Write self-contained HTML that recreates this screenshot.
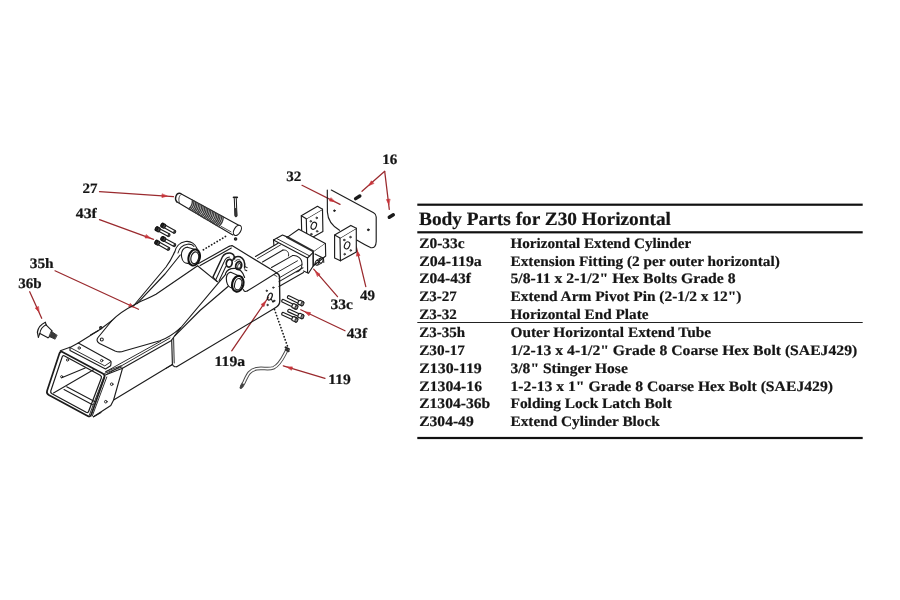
<!DOCTYPE html>
<html lang="en">
<head>
<meta charset="utf-8">
<title>Body Parts for Z30 Horizontal</title>
<style>
html,body{margin:0;padding:0;background:#fff;}
body{width:900px;height:600px;overflow:hidden;position:relative;}
svg{position:absolute;left:0;top:0;display:block;will-change:transform;}
svg text{font-family:"Liberation Serif","DejaVu Serif",serif;font-weight:bold;fill:#151515;text-rendering:geometricPrecision;stroke:#151515;stroke-width:0.2px;stroke-linejoin:round;}
#diagram path,#diagram ellipse,#diagram circle{stroke-linecap:round;stroke-linejoin:round;}
</style>
</head>
<body>
<svg id="sheet" width="900" height="600" viewBox="0 0 900 600">
<rect width="900" height="600" fill="#ffffff"/>
<g id="diagram">
<text x="82.5" y="193.0" font-size="14.3" textLength="15.0" lengthAdjust="spacingAndGlyphs">27</text>
<text x="75.8" y="218.3" font-size="14.3" textLength="21.0" lengthAdjust="spacingAndGlyphs">43f</text>
<text x="29.7" y="267.5" font-size="14.3" textLength="24.0" lengthAdjust="spacingAndGlyphs">35h</text>
<text x="18.3" y="288.0" font-size="14.3" textLength="23.4" lengthAdjust="spacingAndGlyphs">36b</text>
<text x="214.6" y="365.8" font-size="14.3" textLength="30.6" lengthAdjust="spacingAndGlyphs">119a</text>
<text x="328.3" y="384.2" font-size="14.3" textLength="22.5" lengthAdjust="spacingAndGlyphs">119</text>
<text x="330.5" y="309.4" font-size="14.3" textLength="22.5" lengthAdjust="spacingAndGlyphs">33c</text>
<text x="346.7" y="338.0" font-size="14.3" textLength="20.5" lengthAdjust="spacingAndGlyphs">43f</text>
<text x="360.0" y="299.5" font-size="14.3" textLength="15.0" lengthAdjust="spacingAndGlyphs">49</text>
<text x="382.2" y="163.8" font-size="14.3" textLength="15.1" lengthAdjust="spacingAndGlyphs">16</text>
<text x="286.2" y="181.0" font-size="14.3" textLength="15.1" lengthAdjust="spacingAndGlyphs">32</text>
<path d="M99.5,191.7 L173.5,196.6" stroke="#9a2a2e" stroke-width="1.26" fill="none" />
<path d="M167.0,196.2 L161.9,197.4 L162.1,194.2 Z" stroke="#c8343a" stroke-width="0.69" fill="#c8343a" />
<path d="M99.5,219.7 L153.5,239.3" stroke="#9a2a2e" stroke-width="1.26" fill="none" />
<path d="M150.2,238.1 L145.0,237.9 L146.1,234.9 Z" stroke="#c8343a" stroke-width="0.69" fill="#c8343a" />
<path d="M55.0,270.8 L138.5,309.3" stroke="#9a2a2e" stroke-width="1.26" fill="none" />
<path d="M134.0,307.2 L128.7,306.6 L130.1,303.7 Z" stroke="#c8343a" stroke-width="0.69" fill="#c8343a" />
<path d="M29.7,291.7 L41.7,318.3" stroke="#9a2a2e" stroke-width="1.26" fill="none" />
<path d="M38.8,311.9 L35.3,308.0 L38.2,306.7 Z" stroke="#c8343a" stroke-width="0.69" fill="#c8343a" />
<path d="M231.7,350.8 L268.3,297.5" stroke="#9a2a2e" stroke-width="1.26" fill="none" />
<path d="M265.5,301.6 L264.0,306.6 L261.3,304.8 Z" stroke="#c8343a" stroke-width="0.69" fill="#c8343a" />
<path d="M325.0,378.3 L283.3,365.8" stroke="#9a2a2e" stroke-width="1.26" fill="none" />
<path d="M287.1,366.9 L292.4,366.9 L291.5,369.9 Z" stroke="#c8343a" stroke-width="0.69" fill="#c8343a" />
<path d="M337.5,296.7 L313.7,269.2" stroke="#9a2a2e" stroke-width="1.26" fill="none" />
<path d="M315.7,271.5 L320.1,274.2 L317.7,276.3 Z" stroke="#c8343a" stroke-width="0.69" fill="#c8343a" />
<path d="M345.0,330.8 L300.8,309.7" stroke="#9a2a2e" stroke-width="1.26" fill="none" />
<path d="M305.3,311.9 L310.5,312.6 L309.1,315.5 Z" stroke="#c8343a" stroke-width="0.69" fill="#c8343a" />
<path d="M365.8,286.7 L356.3,247.0" stroke="#9a2a2e" stroke-width="1.26" fill="none" />
<path d="M357.2,250.9 L360.0,255.4 L356.8,256.1 Z" stroke="#c8343a" stroke-width="0.69" fill="#c8343a" />
<path d="M384.7,171.3 L362.0,191.3" stroke="#9a2a2e" stroke-width="1.26" fill="none" />
<path d="M368.8,185.4 L371.4,180.8 L373.6,183.2 Z" stroke="#c8343a" stroke-width="0.69" fill="#c8343a" />
<path d="M384.7,171.3 L389.3,209.3" stroke="#9a2a2e" stroke-width="1.26" fill="none" />
<path d="M388.7,204.3 L386.5,199.6 L389.7,199.2 Z" stroke="#c8343a" stroke-width="0.69" fill="#c8343a" />
<path d="M302.0,185.3 L340.0,204.4" stroke="#9a2a2e" stroke-width="1.26" fill="none" />
<path d="M334.6,201.7 L329.5,200.9 L330.9,198.0 Z" stroke="#c8343a" stroke-width="0.69" fill="#c8343a" />
<path d="M180.0,193.3 L239.2,225.6" stroke="#1c1c1c" stroke-width="1.15" fill="none" />
<path d="M176.7,201.7 L232.8,234.9" stroke="#1c1c1c" stroke-width="1.15" fill="none" />
<path d="M180.0,193.3 C176.5,192.5 174.0,198.5 176.7,201.7" stroke="#1c1c1c" stroke-width="1.38" fill="none" />
<path d="M181.5,194.0 C179.0,195.5 178.0,199.5 179.5,203.2" stroke="#1c1c1c" stroke-width="0.80" fill="none" />
<ellipse cx="237.4" cy="230.4" rx="3.3" ry="5.6" transform="rotate(30 237.4 230.4)" stroke="#1c1c1c" stroke-width="1.15" fill="#fff"/>
<path d="M192.4,200.2 Q192.6,205.5 188.8,208.8" stroke="#3c3c3c" stroke-width="1.38" fill="none" />
<path d="M193.9,201.0 Q194.1,206.4 190.3,209.7" stroke="#3c3c3c" stroke-width="1.38" fill="none" />
<path d="M195.5,201.9 Q195.6,207.2 191.8,210.6" stroke="#3c3c3c" stroke-width="1.38" fill="none" />
<path d="M197.0,202.7 Q197.2,208.1 193.3,211.5" stroke="#3c3c3c" stroke-width="1.38" fill="none" />
<path d="M198.6,203.6 Q198.7,209.0 194.8,212.3" stroke="#3c3c3c" stroke-width="1.38" fill="none" />
<path d="M200.1,204.4 Q200.2,209.8 196.2,213.2" stroke="#3c3c3c" stroke-width="1.38" fill="none" />
<path d="M201.7,205.3 Q201.7,210.7 197.7,214.1" stroke="#3c3c3c" stroke-width="1.38" fill="none" />
<path d="M203.2,206.1 Q203.2,211.6 199.2,215.0" stroke="#3c3c3c" stroke-width="1.38" fill="none" />
<path d="M204.8,207.0 Q204.7,212.4 200.7,215.9" stroke="#3c3c3c" stroke-width="1.38" fill="none" />
<path d="M206.3,207.8 Q206.3,213.3 202.2,216.8" stroke="#3c3c3c" stroke-width="1.38" fill="none" />
<path d="M207.8,208.7 Q207.8,214.2 203.7,217.7" stroke="#3c3c3c" stroke-width="1.38" fill="none" />
<path d="M209.4,209.5 Q209.3,215.0 205.2,218.5" stroke="#3c3c3c" stroke-width="1.38" fill="none" />
<path d="M210.9,210.3 Q210.8,215.9 206.7,219.4" stroke="#3c3c3c" stroke-width="1.38" fill="none" />
<path d="M212.5,211.2 Q212.3,216.7 208.2,220.3" stroke="#3c3c3c" stroke-width="1.38" fill="none" />
<path d="M214.0,212.0 Q213.8,217.6 209.7,221.2" stroke="#3c3c3c" stroke-width="1.38" fill="none" />
<path d="M215.6,212.9 Q215.4,218.5 211.2,222.1" stroke="#3c3c3c" stroke-width="1.38" fill="none" />
<path d="M217.1,213.7 Q216.9,219.3 212.6,223.0" stroke="#3c3c3c" stroke-width="1.38" fill="none" />
<path d="M218.7,214.6 Q218.4,220.2 214.1,223.8" stroke="#3c3c3c" stroke-width="1.38" fill="none" />
<path d="M220.2,215.4 Q219.9,221.1 215.6,224.7" stroke="#3c3c3c" stroke-width="1.38" fill="none" />
<path d="M221.8,216.3 Q221.4,221.9 217.1,225.6" stroke="#3c3c3c" stroke-width="1.38" fill="none" />
<path d="M223.3,217.1 Q222.9,222.8 218.6,226.5" stroke="#3c3c3c" stroke-width="1.38" fill="none" />
<path d="M221.0,226.3 L231.0,231.8" stroke="#1c1c1c" stroke-width="0.80" fill="none" />
<circle cx="235.6" cy="238.9" r="1.2" stroke="#1c1c1c" stroke-width="1.15" fill="#444"/>
<path d="M225.5,236.5 L203.0,250.0" stroke="#1c1c1c" stroke-width="1.72" fill="none" stroke-dasharray="0.2 3.0"/>
<path d="M234.3,198.5 L235.0,215.5" stroke="#1c1c1c" stroke-width="1.03" fill="none" />
<path d="M236.3,198.5 L236.9,215.5" stroke="#1c1c1c" stroke-width="1.03" fill="none" />
<path d="M233.6,197.3 L237.2,197.3" stroke="#1c1c1c" stroke-width="1.84" fill="none" />
<path d="M235.6,209.5 L236.0,215.8" stroke="#333" stroke-width="2.76" fill="none" />
<path d="M163.8,227.6 L174.0,233.2 A0.98,1.4 29 0 0 175.4,230.8 L165.1,225.1 Z" stroke="#1c1c1c" stroke-width="1.15" fill="#fff" />
<path d="M173.8,232.8 L174.9,230.8" stroke="#333" stroke-width="1.84" fill="none" />
<path d="M161.2,226.8 L163.5,228.1 A1.10,2.0 29 0 0 165.4,224.6 L163.1,223.3 A1.10,2.0 29 0 0 161.2,226.8 Z" stroke="#1c1c1c" stroke-width="1.26" fill="#4a4a4a" />
<ellipse cx="162.2" cy="225.1" rx="1.1" ry="2.0" transform="rotate(28.926425835253703 162.2 225.1)" stroke="#111" stroke-width="1.03" fill="#2a2a2a"/>
<path d="M158.2,231.1 L168.3,236.5 A0.98,1.4 28 0 0 169.7,234.1 L159.5,228.7 Z" stroke="#1c1c1c" stroke-width="1.15" fill="#fff" />
<path d="M168.1,236.1 L169.2,234.1" stroke="#333" stroke-width="1.84" fill="none" />
<path d="M155.6,230.5 L157.9,231.7 A1.10,2.0 28 0 0 159.8,228.1 L157.5,226.9 A1.10,2.0 28 0 0 155.6,230.5 Z" stroke="#1c1c1c" stroke-width="1.26" fill="#4a4a4a" />
<ellipse cx="156.6" cy="228.7" rx="1.1" ry="2.0" transform="rotate(27.967115506119367 156.6 228.7)" stroke="#111" stroke-width="1.03" fill="#2a2a2a"/>
<path d="M163.8,240.9 L174.0,246.5 A0.98,1.4 29 0 0 175.4,244.1 L165.1,238.4 Z" stroke="#1c1c1c" stroke-width="1.15" fill="#fff" />
<path d="M173.8,246.1 L174.9,244.1" stroke="#333" stroke-width="1.84" fill="none" />
<path d="M161.2,240.1 L163.5,241.4 A1.10,2.0 29 0 0 165.4,237.9 L163.1,236.6 A1.10,2.0 29 0 0 161.2,240.1 Z" stroke="#1c1c1c" stroke-width="1.26" fill="#4a4a4a" />
<ellipse cx="162.2" cy="238.4" rx="1.1" ry="2.0" transform="rotate(28.926425835253703 162.2 238.4)" stroke="#111" stroke-width="1.03" fill="#2a2a2a"/>
<path d="M157.8,244.6 L168.0,250.2 A0.98,1.4 29 0 0 169.4,247.8 L159.1,242.1 Z" stroke="#1c1c1c" stroke-width="1.15" fill="#fff" />
<path d="M167.8,249.8 L168.9,247.8" stroke="#333" stroke-width="1.84" fill="none" />
<path d="M155.2,243.8 L157.5,245.1 A1.10,2.0 29 0 0 159.4,241.6 L157.1,240.3 A1.10,2.0 29 0 0 155.2,243.8 Z" stroke="#1c1c1c" stroke-width="1.26" fill="#4a4a4a" />
<ellipse cx="156.2" cy="242.1" rx="1.1" ry="2.0" transform="rotate(28.926425835253703 156.2 242.1)" stroke="#111" stroke-width="1.03" fill="#2a2a2a"/>
<path d="M299.8,301.0 L289.1,295.7 A0.98,1.4 -154 0 0 287.9,298.3 L298.6,303.5 Z" stroke="#1c1c1c" stroke-width="1.15" fill="#fff" />
<path d="M303.4,301.9 L300.1,300.3 A1.18,2.15 -154 0 0 298.2,304.1 L301.5,305.7 A1.18,2.15 -154 0 0 303.4,301.9 Z" stroke="#1c1c1c" stroke-width="1.26" fill="#fff" />
<ellipse cx="302.4" cy="303.8" rx="1.2" ry="2.1" transform="rotate(-153.99665415548859 302.4 303.8)" stroke="#222" stroke-width="1.26" fill="#ddd"/>
<ellipse cx="302.4" cy="303.8" rx="0.6" ry="1.1" transform="rotate(-153.99665415548859 302.4 303.8)" stroke="#555" stroke-width="0.69" fill="#fff"/>
<path d="M293.8,304.4 L283.4,299.4 A0.98,1.4 -155 0 0 282.2,302.0 L292.6,306.9 Z" stroke="#1c1c1c" stroke-width="1.15" fill="#fff" />
<path d="M297.3,305.2 L294.1,303.7 A1.18,2.15 -155 0 0 292.3,307.6 L295.5,309.1 A1.18,2.15 -155 0 0 297.3,305.2 Z" stroke="#1c1c1c" stroke-width="1.26" fill="#fff" />
<ellipse cx="296.4" cy="307.2" rx="1.2" ry="2.1" transform="rotate(-154.59228189105156 296.4 307.2)" stroke="#222" stroke-width="1.26" fill="#ddd"/>
<ellipse cx="296.4" cy="307.2" rx="0.6" ry="1.1" transform="rotate(-154.59228189105156 296.4 307.2)" stroke="#555" stroke-width="0.69" fill="#fff"/>
<path d="M299.7,314.0 L289.4,309.3 A0.98,1.4 -156 0 0 288.2,311.9 L298.6,316.5 Z" stroke="#1c1c1c" stroke-width="1.15" fill="#fff" />
<path d="M303.3,314.8 L300.0,313.3 A1.18,2.15 -156 0 0 298.3,317.2 L301.6,318.7 A1.18,2.15 -156 0 0 303.3,314.8 Z" stroke="#1c1c1c" stroke-width="1.26" fill="#fff" />
<ellipse cx="302.4" cy="316.7" rx="1.2" ry="2.1" transform="rotate(-155.7722546820459 302.4 316.7)" stroke="#222" stroke-width="1.26" fill="#ddd"/>
<ellipse cx="302.4" cy="316.7" rx="0.6" ry="1.1" transform="rotate(-155.7722546820459 302.4 316.7)" stroke="#555" stroke-width="0.69" fill="#fff"/>
<path d="M293.8,317.3 L283.4,312.4 A0.98,1.4 -155 0 0 282.2,315.0 L292.6,319.8 Z" stroke="#1c1c1c" stroke-width="1.15" fill="#fff" />
<path d="M297.3,318.1 L294.1,316.6 A1.18,2.15 -155 0 0 292.3,320.5 L295.5,322.0 A1.18,2.15 -155 0 0 297.3,318.1 Z" stroke="#1c1c1c" stroke-width="1.26" fill="#fff" />
<ellipse cx="296.4" cy="320.1" rx="1.2" ry="2.1" transform="rotate(-154.98310652189988 296.4 320.1)" stroke="#222" stroke-width="1.26" fill="#ddd"/>
<ellipse cx="296.4" cy="320.1" rx="0.6" ry="1.1" transform="rotate(-154.98310652189988 296.4 320.1)" stroke="#555" stroke-width="0.69" fill="#fff"/>
<path d="M331.3,190.0 L373.6,212.8 Q376.2,214.3 376.2,217.0 L376.2,241.5 Q376.0,248.6 370.5,247.6 Q366.0,245.5 356.7,240.0" stroke="#1c1c1c" stroke-width="1.15" fill="none" />
<path d="M327.3,190.0 L327.4,212.0 C327.8,220.5 331.5,225.5 339.5,230.3" stroke="#1c1c1c" stroke-width="1.15" fill="none" />
<circle cx="334.4" cy="210.7" r="0.8" stroke="#1c1c1c" stroke-width="0.92" fill="#1c1c1c"/>
<circle cx="368.3" cy="229.8" r="0.9" stroke="#1c1c1c" stroke-width="0.92" fill="#1c1c1c"/>
<path d="M355.6,198.6 L359.8,196.0" stroke="#1a1a1a" stroke-width="3.45" fill="none" />
<path d="M389.3,217.3 L393.3,214.8" stroke="#1a1a1a" stroke-width="3.45" fill="none" />
<path d="M306.3,218.8 L322.5,209.2 L322.9,231.5 L306.8,240.5 Z" stroke="#1c1c1c" stroke-width="1.15" fill="#fff" />
<path d="M306.3,218.8 L301.3,215.8 L317.5,206.3 L322.5,209.2" stroke="#1c1c1c" stroke-width="1.15" fill="#fff" />
<path d="M301.3,215.8 L301.8,237.0 L306.8,240.5" stroke="#1c1c1c" stroke-width="1.15" fill="none" />
<ellipse cx="313.8" cy="225.8" rx="2.5" ry="3.7" transform="rotate(22 313.8 225.8)" stroke="#1c1c1c" stroke-width="1.15" fill="none"/>
<circle cx="310.8" cy="221.3" r="0.8" stroke="#333" stroke-width="0.92" fill="#777"/>
<circle cx="316.7" cy="217.9" r="0.8" stroke="#333" stroke-width="0.92" fill="#777"/>
<circle cx="317.1" cy="231.3" r="0.8" stroke="#333" stroke-width="0.92" fill="#777"/>
<circle cx="311.3" cy="234.2" r="0.8" stroke="#333" stroke-width="0.92" fill="#777"/>
<path d="M340.0,237.9 L356.3,228.3 L356.3,252.1 L340.4,260.8 Z" stroke="#1c1c1c" stroke-width="1.15" fill="#fff" />
<path d="M340.0,237.9 L334.6,235.0 L350.8,225.4 L356.3,228.3" stroke="#1c1c1c" stroke-width="1.15" fill="#fff" />
<path d="M334.6,235.0 L334.6,257.9 L340.4,260.8" stroke="#1c1c1c" stroke-width="1.15" fill="none" />
<ellipse cx="347.1" cy="245.4" rx="2.5" ry="3.7" transform="rotate(22 347.1 245.4)" stroke="#1c1c1c" stroke-width="1.15" fill="none"/>
<circle cx="344.2" cy="240.0" r="0.8" stroke="#333" stroke-width="0.92" fill="#777"/>
<circle cx="350.4" cy="237.1" r="0.8" stroke="#333" stroke-width="0.92" fill="#777"/>
<circle cx="350.8" cy="250.4" r="0.8" stroke="#333" stroke-width="0.92" fill="#777"/>
<circle cx="344.6" cy="254.2" r="0.8" stroke="#333" stroke-width="0.92" fill="#777"/>
<path d="M45.4,322.3 C41.0,324.3 38.0,328.3 37.4,332.2 L38.4,337.2" stroke="#1c1c1c" stroke-width="1.26" fill="none" />
<path d="M45.4,322.3 L46.3,325.2" stroke="#1c1c1c" stroke-width="1.15" fill="none" />
<path d="M46.0,324.8 C42.6,326.6 40.4,329.6 39.9,333.2 L38.4,337.2" stroke="#1c1c1c" stroke-width="1.03" fill="none" />
<path d="M46.3,325.2 L51.8,330.6" stroke="#1c1c1c" stroke-width="1.15" fill="none" />
<path d="M39.9,333.4 L48.0,337.7" stroke="#1c1c1c" stroke-width="1.15" fill="none" />
<path d="M51.8,330.6 C52.0,333.5 50.5,336.5 48.0,337.7" stroke="#1c1c1c" stroke-width="1.15" fill="none" />
<path d="M51.5,331.4 L56.9,335.2 L54.9,339.0 L49.4,336.6 Z" stroke="#2a2a2a" stroke-width="0.92" fill="#3a3a3a" />
<path d="M56.9,335.2 L54.9,339.0" stroke="#555" stroke-width="1.15" fill="none" />
<path d="M242.0,385.8 L244.3,381.8 C247.5,375.0 249.0,370.3 256.5,368.7 C263,367.5 268,369.8 273.5,367.8 C280.5,364.5 283.0,357.0 286.6,350.6" stroke="#4a4a4a" stroke-width="3.56" fill="none" />
<path d="M242.0,385.8 L244.3,381.8 C247.5,375.0 249.0,370.3 256.5,368.7 C263,367.5 268,369.8 273.5,367.8 C280.5,364.5 283.0,357.0 286.6,350.6" stroke="#ffffff" stroke-width="1.61" fill="none" />
<path d="M240.9,387.6 L242.6,384.6" stroke="#444" stroke-width="2.76" fill="none" />
<path d="M285.5,347.3 L289.0,349.0" stroke="#222" stroke-width="1.84" fill="none" />
<path d="M286.0,349.6 L288.5,351.0" stroke="#333" stroke-width="2.53" fill="none" />
<path d="M274.5,309.5 L287.4,346.0" stroke="#1c1c1c" stroke-width="1.72" fill="none" stroke-dasharray="0.2 3.0"/>
<path d="M59.4,353.6 Q60.3,350.8 62.9,352.2 L102.7,373.6 Q105.3,375.0 104.3,377.8 L91.3,414.5 Q90.3,417.3 87.7,415.9 L48.8,395.0 Q46.2,393.6 47.1,390.8 Z" stroke="#1c1c1c" stroke-width="1.72" fill="none" />
<path d="M62.2,356.9 Q62.8,355.0 64.6,356.0 L100.2,375.2 Q102.0,376.2 101.3,378.1 L88.7,411.3 Q88.0,413.2 86.2,412.3 L52.0,393.7 Q50.2,392.8 50.8,390.9 Z" stroke="#1c1c1c" stroke-width="1.26" fill="none" />
<path d="M61.7,377.8 L85.2,368.0" stroke="#1c1c1c" stroke-width="1.03" fill="none" />
<path d="M53.5,393.0 L93.5,369.8" stroke="#1c1c1c" stroke-width="1.03" fill="none" />
<path d="M66.7,386.7 L95.0,401.7" stroke="#1c1c1c" stroke-width="1.03" fill="none" />
<path d="M64.0,389.5 L92.5,404.8" stroke="#1c1c1c" stroke-width="1.03" fill="none" />
<circle cx="67.5" cy="360.0" r="1.1" stroke="#1c1c1c" stroke-width="0.92" fill="none"/>
<circle cx="61.7" cy="376.7" r="1.1" stroke="#1c1c1c" stroke-width="0.92" fill="none"/>
<path d="M105.3,375.0 L122.5,368.3 L113.6,400.0 L110.8,405.5 L93.5,416.8" stroke="#1c1c1c" stroke-width="1.15" fill="none" />
<path d="M103.6,377.5 L89.4,415.0" stroke="#1c1c1c" stroke-width="0.92" fill="none" />
<path d="M106.8,377.0 L92.2,416.2" stroke="#1c1c1c" stroke-width="0.92" fill="none" />
<path d="M105.8,371.6 L121.0,365.8" stroke="#1c1c1c" stroke-width="0.92" fill="none" />
<path d="M104.6,373.4 L121.8,367.0" stroke="#1c1c1c" stroke-width="0.92" fill="none" />
<circle cx="111.7" cy="384.2" r="1.3" stroke="#1c1c1c" stroke-width="0.92" fill="none"/>
<circle cx="105.8" cy="401.7" r="1.3" stroke="#1c1c1c" stroke-width="0.92" fill="none"/>
<path d="M70.0,347.5 L78.3,343.0 L110.0,360.6 Q111.6,361.6 111.0,363.5 L110.6,365.8 L105.5,369.0 L70.0,350.5 Z" stroke="#1c1c1c" stroke-width="1.15" fill="none" />
<path d="M70.0,347.5 L104.8,365.9 L110.5,362.0" stroke="#1c1c1c" stroke-width="0.92" fill="none" />
<circle cx="79.2" cy="348.0" r="1.2" stroke="#1c1c1c" stroke-width="0.92" fill="none"/>
<circle cx="101.7" cy="360.6" r="1.2" stroke="#1c1c1c" stroke-width="0.92" fill="none"/>
<path d="M60.3,350.8 L70.0,347.3" stroke="#1c1c1c" stroke-width="1.03" fill="none" />
<path d="M78.3,343.0 L100.0,329.5" stroke="#1c1c1c" stroke-width="1.15" fill="none" />
<path d="M122.5,368.3 L171.5,340.5" stroke="#1c1c1c" stroke-width="1.15" fill="none" />
<path d="M105.5,371.8 L160.5,341.3" stroke="#1c1c1c" stroke-width="0.92" fill="none" />
<path d="M107.5,373.8 L170.0,338.0" stroke="#1c1c1c" stroke-width="0.92" fill="none" />
<path d="M113.6,400.0 L172.3,364.6" stroke="#1c1c1c" stroke-width="1.15" fill="none" />
<path d="M93.5,416.8 L101.0,412.5" stroke="#1c1c1c" stroke-width="1.03" fill="none" />
<path d="M134.2,305.0 C125,309.5 118,314.5 112.0,320.5 L98.0,337.5 Q95.5,340.8 99.5,343.5 L115.0,351.0 Q119.5,352.8 124.0,351.0 L160.0,340.8 Q171,336.5 180.5,327.8" stroke="#1c1c1c" stroke-width="1.15" fill="none" />
<path d="M134.2,305.0 C141,300.5 148,298.8 156,294.3 L197.3,266.0" stroke="#1c1c1c" stroke-width="1.15" fill="none" />
<path d="M100.0,329.5 L112.0,320.5" stroke="#1c1c1c" stroke-width="1.03" fill="none" />
<circle cx="100.8" cy="327.8" r="1.2" stroke="#1c1c1c" stroke-width="1.03" fill="#555"/>
<circle cx="101.8" cy="339.5" r="1.5" stroke="#1c1c1c" stroke-width="1.03" fill="none"/>
<path d="M90.5,335.0 L98.5,330.5" stroke="#1c1c1c" stroke-width="1.03" fill="none" />
<path d="M134.2,305.0 L166.0,267.0 Q171.5,259.5 174.5,252.0" stroke="#1c1c1c" stroke-width="1.15" fill="none" />
<path d="M137.0,303.6 L165.0,274.0 L180.2,255.0" stroke="#1c1c1c" stroke-width="1.15" fill="none" />
<path d="M174.6,252.3 C175.5,247.0 179.5,242.5 185.5,241.5 C191.0,240.8 195.5,244.0 197.2,249.0" stroke="#1c1c1c" stroke-width="1.15" fill="none" />
<path d="M178.0,253.0 C179.0,248.5 182.5,245.0 187.5,244.2 C191.0,243.8 193.0,245.0 194.0,246.5" stroke="#1c1c1c" stroke-width="1.03" fill="none" />
<path d="M187.2,247.2 C183.0,247.5 180.8,252.0 181.6,257.0 C182.3,261.0 185.0,263.6 188.0,263.4" stroke="#1c1c1c" stroke-width="1.15" fill="none" />
<path d="M187.2,247.2 L194.5,249.3" stroke="#1c1c1c" stroke-width="1.03" fill="none" />
<path d="M188.0,263.4 L194.0,265.6" stroke="#1c1c1c" stroke-width="1.03" fill="none" />
<ellipse cx="194.2" cy="257.5" rx="5.6" ry="8.2" transform="rotate(14 194.2 257.5)" stroke="#111" stroke-width="2.07" fill="#fff"/>
<ellipse cx="194.8" cy="257.8" rx="3.8" ry="6.0" transform="rotate(14 194.8 257.8)" stroke="#1c1c1c" stroke-width="1.15" fill="none"/>
<path d="M197.5,265.8 L217.0,281.6" stroke="#1c1c1c" stroke-width="1.15" fill="none" />
<path d="M198.5,263.6 L229.2,246.3" stroke="#1c1c1c" stroke-width="1.15" fill="none" />
<path d="M200.2,265.6 L231.3,248.0" stroke="#1c1c1c" stroke-width="1.15" fill="none" />
<path d="M229.2,246.3 L232.0,245.6 L276.6,272.8" stroke="#1c1c1c" stroke-width="1.15" fill="none" />
<path d="M276.6,272.8 Q279.4,274.2 279.5,277.0 L279.8,300.5 Q279.8,305.0 276.5,307.0 L272.5,309.5" stroke="#1c1c1c" stroke-width="1.38" fill="none" />
<path d="M272.5,309.5 L176.7,366.7" stroke="#1c1c1c" stroke-width="1.15" fill="none" />
<path d="M276.6,272.8 L247.6,290.8" stroke="#1c1c1c" stroke-width="1.15" fill="none" />
<path d="M247.6,290.8 Q244.4,292.6 243.4,289.6" stroke="#1c1c1c" stroke-width="1.15" fill="none" />
<path d="M274.0,274.8 L277.0,276.5" stroke="#1c1c1c" stroke-width="0.80" fill="none" />
<path d="M225.6,274.3 L181.0,327.5" stroke="#1c1c1c" stroke-width="1.15" fill="none" />
<path d="M228.3,286.3 L200.0,310.5 L175.0,335.6" stroke="#1c1c1c" stroke-width="1.15" fill="none" />
<path d="M180.5,327.8 L171.7,340.0" stroke="#1c1c1c" stroke-width="1.15" fill="none" />
<path d="M171.7,340.0 L172.4,364.0 Q172.6,366.0 174.6,366.6 L176.7,366.7" stroke="#1c1c1c" stroke-width="1.15" fill="none" />
<path d="M173.6,338.2 L174.2,363.0" stroke="#1c1c1c" stroke-width="0.92" fill="none" />
<path d="M172.3,364.6 L166.0,368.4" stroke="#1c1c1c" stroke-width="1.03" fill="none" />
<path d="M213.0,277.0 L221.2,259.5 C222.6,255.2 226.0,252.8 230.0,253.0 C233.0,253.4 234.6,256.0 234.6,259.0" stroke="#1c1c1c" stroke-width="1.49" fill="none" />
<path d="M216.0,279.2 L224.0,262.0 C225.2,259.0 227.0,257.3 229.5,257.0" stroke="#1c1c1c" stroke-width="1.03" fill="none" />
<path d="M219.0,281.0 L225.8,266.5" stroke="#1c1c1c" stroke-width="1.03" fill="none" />
<path d="M213.0,277.0 L217.6,281.8" stroke="#1c1c1c" stroke-width="1.03" fill="none" />
<ellipse cx="229.2" cy="263.2" rx="2.9" ry="3.9" transform="rotate(14 229.2 263.2)" stroke="#1a1a1a" stroke-width="1.72" fill="#fff"/>
<path d="M232.6,260.5 C233.6,257.2 236.8,255.8 240.0,256.8 C243.6,258.2 245.2,262.6 244.6,268.0" stroke="#1c1c1c" stroke-width="1.49" fill="none" />
<path d="M235.0,261.5 C236.2,259.6 238.2,259.2 240.0,260.0" stroke="#1c1c1c" stroke-width="0.92" fill="none" />
<ellipse cx="238.7" cy="265.6" rx="2.9" ry="4.0" transform="rotate(14 238.7 265.6)" stroke="#1a1a1a" stroke-width="1.84" fill="#fff"/>
<ellipse cx="239.1" cy="265.9" rx="1.4" ry="2.4" transform="rotate(14 239.1 265.9)" stroke="#333" stroke-width="0.92" fill="#fff"/>
<path d="M244.6,266.4 L247.2,267.6" stroke="#1c1c1c" stroke-width="1.03" fill="none" />
<path d="M244.8,269.8 L246.8,270.8" stroke="#1c1c1c" stroke-width="1.03" fill="none" />
<path d="M225.5,273.5 C227.0,270.0 231.0,268.2 235.2,268.4 C239.6,268.8 243.0,272.0 244.6,277.5" stroke="#1c1c1c" stroke-width="1.15" fill="none" />
<path d="M230.8,272.3 C227.0,272.6 225.6,277.0 226.6,281.6 C227.5,285.8 230.2,288.2 232.8,287.8" stroke="#1c1c1c" stroke-width="1.15" fill="#fff" />
<path d="M230.8,272.3 L238.6,275.8" stroke="#1c1c1c" stroke-width="1.03" fill="none" />
<path d="M232.8,287.8 L237.0,291.8" stroke="#1c1c1c" stroke-width="1.03" fill="none" />
<ellipse cx="237.8" cy="283.8" rx="5.6" ry="8.0" transform="rotate(14 237.8 283.8)" stroke="#111" stroke-width="2.18" fill="#fff"/>
<ellipse cx="238.2" cy="284.2" rx="3.5" ry="5.8" transform="rotate(14 238.2 284.2)" stroke="#1c1c1c" stroke-width="1.15" fill="none"/>
<ellipse cx="269.9" cy="296.6" rx="2.0" ry="3.7" transform="rotate(25 269.9 296.6)" stroke="#1c1c1c" stroke-width="1.26" fill="none"/>
<circle cx="266.7" cy="290.8" r="0.7" stroke="#333" stroke-width="0.92" fill="#555"/>
<circle cx="273.3" cy="287.6" r="0.7" stroke="#333" stroke-width="0.92" fill="#555"/>
<circle cx="267.5" cy="305.0" r="0.7" stroke="#333" stroke-width="0.92" fill="#555"/>
<circle cx="274.2" cy="300.8" r="0.7" stroke="#333" stroke-width="0.92" fill="#555"/>
<path d="M271.2,299.0 L273.0,302.2 L274.2,300.8" stroke="#1c1c1c" stroke-width="1.03" fill="none" />
<path d="M255.5,256.5 L278.0,243.3" stroke="#1c1c1c" stroke-width="1.15" fill="none" />
<path d="M257.5,258.5 L280.5,245.0" stroke="#1c1c1c" stroke-width="0.92" fill="none" />
<path d="M262.5,262.0 L283.0,250.0" stroke="#1c1c1c" stroke-width="1.03" fill="none" />
<path d="M271.5,267.5 L292.5,255.6" stroke="#1c1c1c" stroke-width="1.03" fill="none" />
<path d="M279.0,281.6 L303.0,267.8" stroke="#1c1c1c" stroke-width="1.03" fill="none" />
<path d="M279.0,286.5 L303.5,272.5" stroke="#1c1c1c" stroke-width="1.03" fill="none" />
<path d="M279.0,278.0 L302.0,264.5" stroke="#1c1c1c" stroke-width="0.92" fill="none" />
<path d="M276.5,272.8 L297.5,260.8" stroke="#1c1c1c" stroke-width="0.92" fill="none" />
<path d="M283.0,250.0 C287.0,249.5 289.5,252.5 288.5,256.0" stroke="#1c1c1c" stroke-width="0.92" fill="none" />
<path d="M292.5,255.6 C296.5,254.8 302.5,258.0 302.0,264.5 C301.8,268.5 299.5,271.6 296.5,272.0" stroke="#1c1c1c" stroke-width="1.03" fill="none" />
<path d="M273.5,240.0 L282.5,235.0 L288.2,237.4" stroke="#1c1c1c" stroke-width="1.15" fill="none" />
<path d="M273.5,240.0 L307.5,258.0 L313.2,252.3" stroke="#1c1c1c" stroke-width="1.15" fill="none" />
<path d="M273.5,240.0 L273.9,245.5" stroke="#1c1c1c" stroke-width="1.15" fill="none" />
<path d="M276.6,238.5 L309.8,256.0" stroke="#1c1c1c" stroke-width="0.92" fill="none" />
<path d="M287.9,236.9 L298.8,229.2 L325.4,243.6 L313.2,252.3" stroke="#1c1c1c" stroke-width="1.15" fill="#fff" />
<path d="M325.4,243.6 L325.7,256.0 L313.2,266.0 L313.2,252.3" stroke="#1c1c1c" stroke-width="1.15" fill="#fff" />
<path d="M313.2,252.3 L313.2,266.0 L308.5,273.3 L303.5,271.0" stroke="#1c1c1c" stroke-width="1.15" fill="none" />
<path d="M307.5,258.0 L307.6,272.6" stroke="#1c1c1c" stroke-width="1.15" fill="none" />
<path d="M287.0,237.0 L313.0,251.2" stroke="#2a2a2a" stroke-width="2.07" fill="none" />
<path d="M313.2,266.0 L316.0,262.5" stroke="#1c1c1c" stroke-width="0.92" fill="none" />
<path d="M315.0,254.0 L323.5,258.2 L323.8,262.5" stroke="#1c1c1c" stroke-width="1.03" fill="none" />
<ellipse cx="321.0" cy="260.5" rx="2.0" ry="2.6" transform="rotate(20 321.0 260.5)" stroke="#1c1c1c" stroke-width="1.03" fill="none"/>
<ellipse cx="317.0" cy="262.8" rx="1.8" ry="2.4" transform="rotate(20 317.0 262.8)" stroke="#1c1c1c" stroke-width="1.03" fill="none"/>
<path d="M316.3,260.4 L320.4,258.0" stroke="#1c1c1c" stroke-width="0.92" fill="none" />
<path d="M317.8,265.2 L321.8,263.0" stroke="#1c1c1c" stroke-width="0.92" fill="none" />
</g>
<g id="partslist">
<rect x="417.3" y="203.6" width="445.4" height="2.2" fill="#111"/>
<rect x="417.3" y="231.2" width="445.4" height="2.2" fill="#111"/>
<rect x="417.3" y="322.0" width="445.4" height="1.0" fill="#222"/>
<rect x="417.3" y="436.9" width="445.4" height="2.2" fill="#111"/>
<text x="419.0" y="224.5" font-size="18.8" textLength="252.0" lengthAdjust="spacingAndGlyphs">Body Parts for Z30 Horizontal</text>
<text x="419.2" y="247.6" font-size="14.5" textLength="45.5" lengthAdjust="spacingAndGlyphs">Z0-33c</text>
<text x="510.5" y="247.6" font-size="14.5" textLength="180.6" lengthAdjust="spacingAndGlyphs">Horizontal Extend Cylinder</text>
<text x="419.2" y="265.5" font-size="14.5" textLength="62.6" lengthAdjust="spacingAndGlyphs">Z04-119a</text>
<text x="510.5" y="265.5" font-size="14.5" textLength="269.3" lengthAdjust="spacingAndGlyphs">Extension Fitting (2 per outer horizontal)</text>
<text x="419.2" y="283.3" font-size="14.5" textLength="51.7" lengthAdjust="spacingAndGlyphs">Z04-43f</text>
<text x="510.5" y="283.3" font-size="14.5" textLength="225.1" lengthAdjust="spacingAndGlyphs">5/8-11 x 2-1/2&quot; Hex Bolts Grade 8</text>
<text x="419.2" y="301.2" font-size="14.5" textLength="37.7" lengthAdjust="spacingAndGlyphs">Z3-27</text>
<text x="510.5" y="301.2" font-size="14.5" textLength="231.0" lengthAdjust="spacingAndGlyphs">Extend Arm Pivot Pin (2-1/2 x 12&quot;)</text>
<text x="419.2" y="319.0" font-size="14.5" textLength="37.7" lengthAdjust="spacingAndGlyphs">Z3-32</text>
<text x="510.5" y="319.0" font-size="14.5" textLength="138.0" lengthAdjust="spacingAndGlyphs">Horizontal End Plate</text>
<text x="419.2" y="336.9" font-size="14.5" textLength="45.8" lengthAdjust="spacingAndGlyphs">Z3-35h</text>
<text x="510.5" y="336.9" font-size="14.5" textLength="200.6" lengthAdjust="spacingAndGlyphs">Outer Horizontal Extend Tube</text>
<text x="419.2" y="354.8" font-size="14.5" textLength="45.8" lengthAdjust="spacingAndGlyphs">Z30-17</text>
<text x="510.5" y="354.8" font-size="14.5" textLength="346.7" lengthAdjust="spacingAndGlyphs">1/2-13 x 4-1/2&quot; Grade 8 Coarse Hex Bolt (SAEJ429)</text>
<text x="419.2" y="372.6" font-size="14.5" textLength="62.6" lengthAdjust="spacingAndGlyphs">Z130-119</text>
<text x="510.5" y="372.6" font-size="14.5" textLength="117.3" lengthAdjust="spacingAndGlyphs">3/8&quot; Stinger Hose</text>
<text x="419.2" y="390.5" font-size="14.5" textLength="62.9" lengthAdjust="spacingAndGlyphs">Z1304-16</text>
<text x="510.5" y="390.5" font-size="14.5" textLength="322.5" lengthAdjust="spacingAndGlyphs">1-2-13 x 1&quot; Grade 8 Coarse Hex Bolt (SAEJ429)</text>
<text x="419.2" y="408.3" font-size="14.5" textLength="71.0" lengthAdjust="spacingAndGlyphs">Z1304-36b</text>
<text x="510.5" y="408.3" font-size="14.5" textLength="161.3" lengthAdjust="spacingAndGlyphs">Folding Lock Latch Bolt</text>
<text x="419.2" y="426.2" font-size="14.5" textLength="54.5" lengthAdjust="spacingAndGlyphs">Z304-49</text>
<text x="510.5" y="426.2" font-size="14.5" textLength="149.3" lengthAdjust="spacingAndGlyphs">Extend Cylinder Block</text>
</g>
</svg>
</body>
</html>
